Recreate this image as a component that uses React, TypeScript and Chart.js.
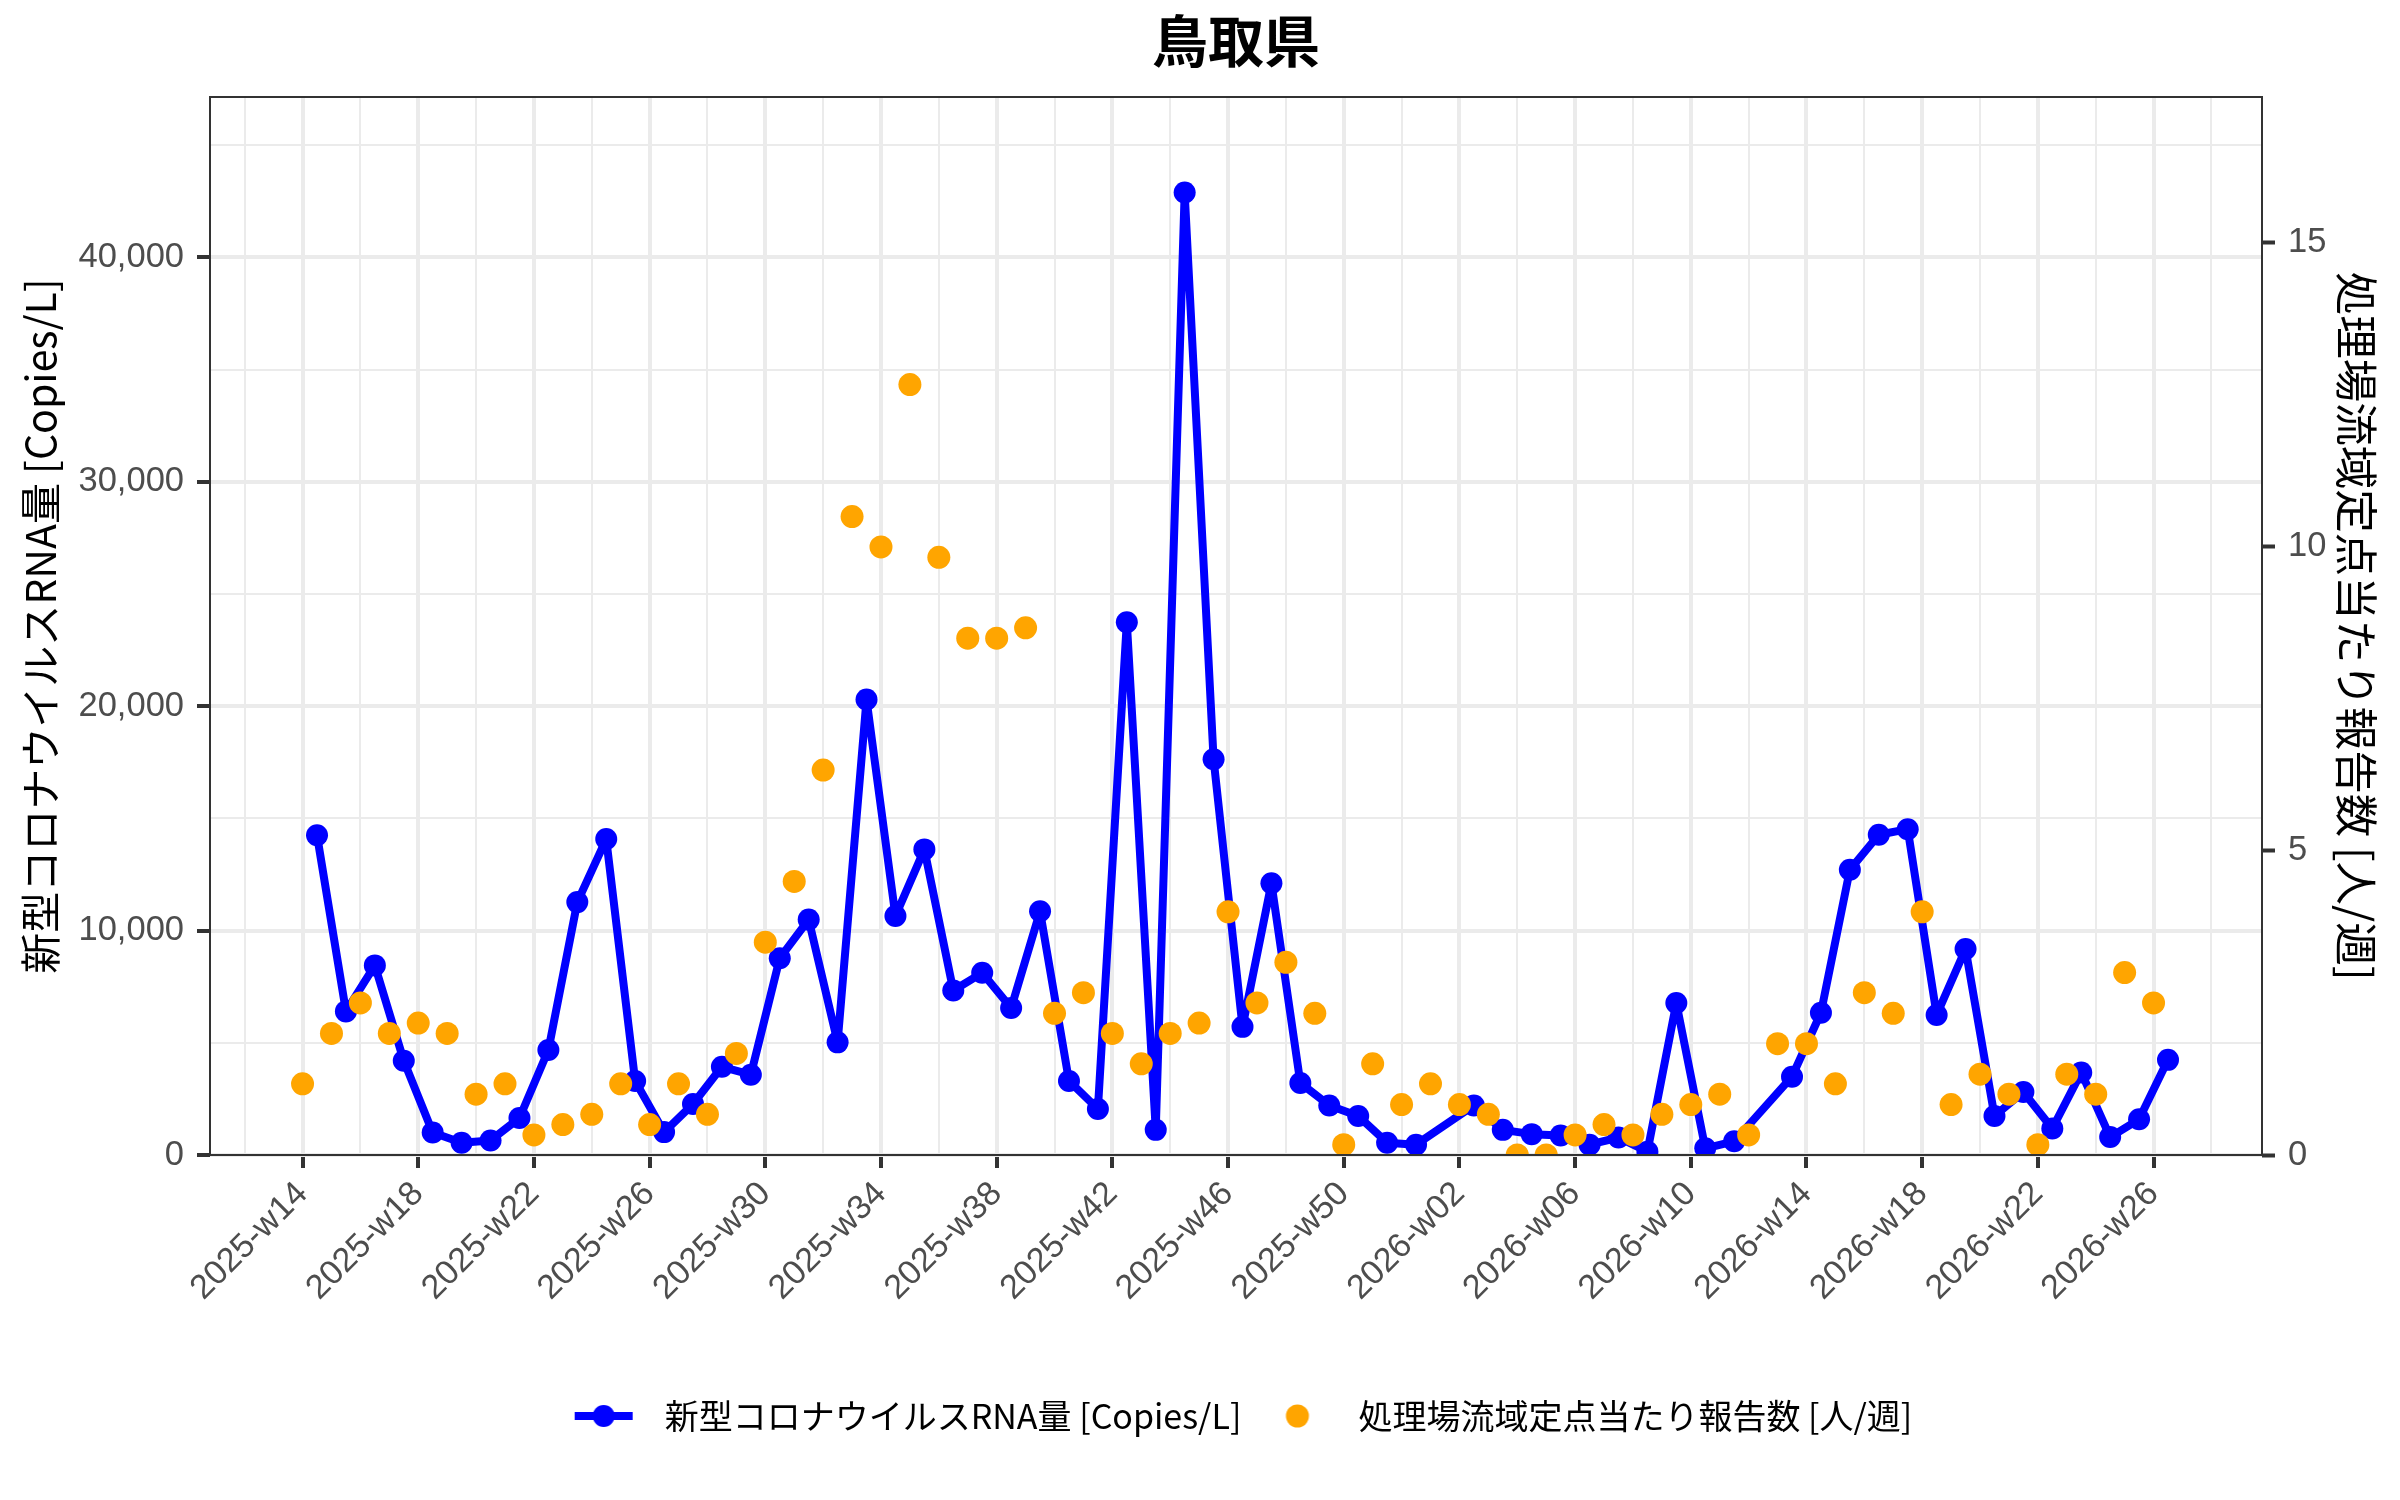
import React, { useEffect, useRef } from 'react';
import { Chart, registerables } from 'chart.js';

Chart.register(...registerables);

// ---------------- data ----------------
const TITLE = '鳥取県';
const RNA_LABEL = '新型コロナウイルスRNA量 [Copies/L]';
const REPORT_LABEL = '処理場流域定点当たり報告数 [人/週]';

// sampling weeks of the wastewater RNA measurements
const rnaWeeks = [
  '2025-w14', '2025-w15', '2025-w16', '2025-w17', '2025-w18', '2025-w19', '2025-w20', '2025-w21',
  '2025-w22', '2025-w23', '2025-w24', '2025-w25', '2025-w26', '2025-w27', '2025-w28', '2025-w29',
  '2025-w30', '2025-w31', '2025-w32', '2025-w33', '2025-w34', '2025-w35', '2025-w36', '2025-w37',
  '2025-w38', '2025-w39', '2025-w40', '2025-w41', '2025-w42', '2025-w43', '2025-w44', '2025-w45',
  '2025-w46', '2025-w47', '2025-w48', '2025-w49', '2025-w50', '2025-w51', '2025-w52',
  '2026-w02', '2026-w03', '2026-w04', '2026-w05', '2026-w06', '2026-w07', '2026-w08', '2026-w09',
  '2026-w10', '2026-w11', '2026-w13', '2026-w14', '2026-w15', '2026-w16', '2026-w17', '2026-w18',
  '2026-w19', '2026-w20', '2026-w21', '2026-w22', '2026-w23', '2026-w24', '2026-w25', '2026-w26',
];
const rnaValues = [
  14250, 6400, 8450, 4200, 1000, 550, 650, 1650,
  4680, 11270, 14080, 3300, 1020, 2270, 3930, 3580,
  8770, 10490, 5020, 20300, 10650, 13620, 7330, 8120,
  6550, 10860, 3300, 2050, 23740, 1120, 42890, 17640,
  5710, 12110, 3210, 2210, 1740, 550, 460,
  2210, 1120, 930, 870, 460, 780, 150, 6770,
  300, 610, 3490, 6340, 12710, 14270, 14520, 6240,
  9180, 1740, 2810, 1180, 3680, 800, 1590, 4240,
];

// weekly sentinel reports per site
const reportWeeks = [
  '2025-w14', '2025-w15', '2025-w16', '2025-w17', '2025-w18', '2025-w19', '2025-w20', '2025-w21',
  '2025-w22', '2025-w23', '2025-w24', '2025-w25', '2025-w26', '2025-w27', '2025-w28', '2025-w29',
  '2025-w30', '2025-w31', '2025-w32', '2025-w33', '2025-w34', '2025-w35', '2025-w36', '2025-w37',
  '2025-w38', '2025-w39', '2025-w40', '2025-w41', '2025-w42', '2025-w43', '2025-w44', '2025-w45',
  '2025-w46', '2025-w47', '2025-w48', '2025-w49', '2025-w50', '2025-w51', '2025-w52', '2026-w01',
  '2026-w02', '2026-w03', '2026-w04', '2026-w05', '2026-w06', '2026-w07', '2026-w08', '2026-w09',
  '2026-w10', '2026-w11', '2026-w12', '2026-w13', '2026-w14', '2026-w15', '2026-w16', '2026-w17',
  '2026-w18', '2026-w19', '2026-w20', '2026-w21', '2026-w22', '2026-w23', '2026-w24', '2026-w25',
  '2026-w26',
];
const reportValues = [
  1.17, 2, 2.5, 2, 2.17, 2, 1, 1.17,
  0.33, 0.5, 0.67, 1.17, 0.5, 1.17, 0.67, 1.67,
  3.5, 4.5, 6.33, 10.5, 10, 12.67, 9.83, 8.5,
  8.5, 8.67, 2.33, 2.67, 2, 1.5, 2, 2.17,
  4, 2.5, 3.17, 2.33, 0.17, 1.5, 0.83, 1.17,
  0.83, 0.67, 0, 0, 0.33, 0.5, 0.33, 0.67,
  0.83, 1, 0.33, 1.83, 1.83, 1.17, 2.67, 2.33,
  4, 0.83, 1.33, 1, 0.17, 1.33, 1, 3,
  2.5,
];

const xTickLabels = [
  '2025-w14', '2025-w18', '2025-w22', '2025-w26', '2025-w30', '2025-w34', '2025-w38', '2025-w42',
  '2025-w46', '2025-w50', '2026-w02', '2026-w06', '2026-w10', '2026-w14', '2026-w18', '2026-w22',
  '2026-w26',
];
const leftTicks = [0, 10000, 20000, 30000, 40000];
const rightTicks = [0, 5, 10, 15];

// ---------------- helpers ----------------
const TICK_FONT = "'Liberation Sans', 'Noto Sans CJK JP', sans-serif";
const JP_FONT = "'Noto Sans CJK JP', 'Liberation Sans', sans-serif";
const SAMPLE_OFFSET = 0.5; // RNA samples are taken mid-week

const weekIndex = (label: string) => {
  const m = /^(\d{4})-w(\d{2})$/.exec(label)!;
  return (Number(m[1]) - 2025) * 52 + Number(m[2]) - 14;
};

const majorX = xTickLabels.map(weekIndex);
const labelByX = new Map<number, string>(xTickLabels.map((l) => [weekIndex(l), l]));
const xGridValues: number[] = [];
for (let v = majorX[0] - 2; v <= majorX[majorX.length - 1] + 2; v += 2) xGridValues.push(v);

const leftGridValues: number[] = [];
for (let v = 0; v <= leftTicks[leftTicks.length - 1] + 5000; v += 5000) leftGridValues.push(v);

const rnaPoints = rnaWeeks.map((w, i) => ({ x: weekIndex(w) + SAMPLE_OFFSET, y: rnaValues[i] }));
const reportPoints = reportWeeks.map((w, i) => ({ x: weekIndex(w), y: reportValues[i] }));

const GRID = '#EBEBEB';
const DARK = '#333333';
const TICK_TEXT = '#4D4D4D';

function makeLineSymbol() {
  const c = document.createElement('canvas');
  c.width = 60;
  c.height = 26;
  const g = c.getContext('2d')!;
  g.strokeStyle = '#0000FF';
  g.lineWidth = 8;
  g.beginPath();
  g.moveTo(1, 13);
  g.lineTo(59, 13);
  g.stroke();
  g.fillStyle = '#0000FF';
  g.beginPath();
  g.arc(30, 13, 11, 0, Math.PI * 2);
  g.fill();
  return c;
}
function makeDotSymbol() {
  const c = document.createElement('canvas');
  c.width = 26;
  c.height = 26;
  const g = c.getContext('2d')!;
  g.fillStyle = '#FFA500';
  g.beginPath();
  g.arc(13, 13, 11.5, 0, Math.PI * 2);
  g.fill();
  return c;
}

const framePlugin = {
  id: 'panelFrame',
  afterDatasetsDraw(chart: any) {
    const { ctx, chartArea: a } = chart;
    ctx.save();
    ctx.strokeStyle = DARK;
    ctx.lineWidth = 2;
    ctx.strokeRect(a.left, a.top, a.right - a.left, a.bottom - a.top);
    ctx.restore();
  },
};

export default function App() {
  const ref = useRef<HTMLCanvasElement | null>(null);

  useEffect(() => {
    document.body.style.margin = '0';
    const canvas = ref.current;
    if (!canvas) return;
    const lineSymbol = makeLineSymbol();
    const dotSymbol = makeDotSymbol();

    const chart = new Chart(canvas, {
      type: 'scatter',
      data: {
        datasets: [
          {
            label: RNA_LABEL,
            data: rnaPoints,
            showLine: true,
            borderColor: '#0000FF',
            borderWidth: 8,
            borderJoinStyle: 'round',
            borderCapStyle: 'round',
            backgroundColor: '#0000FF',
            pointRadius: 11,
            pointBorderWidth: 0,
            pointBackgroundColor: '#0000FF',
            tension: 0,
            yAxisID: 'y',
            order: 1,
            clip: 0,
          } as any,
          {
            label: REPORT_LABEL,
            data: reportPoints,
            showLine: false,
            backgroundColor: '#FFA500',
            borderWidth: 0,
            pointRadius: 11.5,
            pointBorderWidth: 0,
            yAxisID: 'y1',
            order: 0,
            clip: 0,
          } as any,
        ],
      },
      options: {
        responsive: false,
        devicePixelRatio: 1,
        animation: false,
        events: [],
        layout: { padding: { left: 0, right: 0, top: 0, bottom: 57 } },
        plugins: {
          tooltip: { enabled: false },
          title: {
            display: true,
            text: TITLE,
            fullSize: false,
            color: '#000000',
            font: { family: JP_FONT, size: 56, weight: 'bold' },
            padding: { top: 7.4, bottom: 22.4 },
          },
          legend: {
            display: true,
            position: 'bottom',
            fullSize: false,
            onClick: () => {},
            labels: {
              usePointStyle: true,
              pointStyleWidth: 88,
              color: '#000000',
              padding: 12,
              font: { family: JP_FONT, size: 34 },
              generateLabels: () => [
                {
                  text: RNA_LABEL,
                  pointStyle: lineSymbol as any,
                  fillStyle: '#0000FF',
                  strokeStyle: 'rgba(0,0,0,0)',
                  lineWidth: 0,
                  hidden: false,
                  datasetIndex: 0,
                },
                {
                  text: REPORT_LABEL,
                  pointStyle: dotSymbol as any,
                  fillStyle: '#FFA500',
                  strokeStyle: 'rgba(0,0,0,0)',
                  lineWidth: 0,
                  hidden: false,
                  datasetIndex: 1,
                },
              ],
            },
          },
        },
        scales: {
          x: {
            type: 'linear',
            min: -3.2,
            max: 67.75,
            afterBuildTicks: (scale: any) => {
              scale.ticks = xGridValues.map((v) => ({ value: v }));
            },
            afterFit: (scale: any) => {
              scale.height = 232;
            },
            ticks: {
              autoSkip: false,
              maxRotation: 45,
              minRotation: 45,
              padding: 6,
              color: TICK_TEXT,
              font: { family: TICK_FONT, size: 34 },
              callback: (v: any) => labelByX.get(Math.round(Number(v))) ?? '',
            },
            grid: {
              color: GRID,
              lineWidth: (c: any) => (labelByX.has(Math.round(c.tick?.value)) ? 4 : 2),
              tickColor: (c: any) => (labelByX.has(Math.round(c.tick?.value)) ? DARK : 'rgba(0,0,0,0)'),
              tickWidth: 4,
              tickLength: 13,
            },
            border: { display: false },
          },
          y: {
            type: 'linear',
            position: 'left',
            min: 0,
            max: 47150,
            afterBuildTicks: (scale: any) => {
              scale.ticks = leftGridValues.map((v) => ({ value: v }));
            },
            afterFit: (scale: any) => {
              scale.width = 210;
            },
            ticks: {
              padding: 13,
              color: TICK_TEXT,
              font: { family: TICK_FONT, size: 34.5 },
              callback: (v: any) =>
                leftTicks.includes(Number(v)) ? Number(v).toLocaleString('en-US') : '',
            },
            grid: {
              color: GRID,
              lineWidth: (c: any) => (leftTicks.includes(c.tick?.value) ? 4 : 2),
              tickColor: (c: any) => (leftTicks.includes(c.tick?.value) ? DARK : 'rgba(0,0,0,0)'),
              tickWidth: 4,
              tickLength: 13,
            },
            border: { display: false },
            title: {
              display: true,
              text: RNA_LABEL,
              color: '#000000',
              font: { family: JP_FONT, size: 41 },
              padding: { top: 15.4, bottom: 0 },
            },
          },
          y1: {
            type: 'linear',
            position: 'right',
            min: 0,
            max: 17.4,
            afterBuildTicks: (scale: any) => {
              scale.ticks = rightTicks.map((v) => ({ value: v }));
            },
            afterFit: (scale: any) => {
              scale.width = 138;
            },
            ticks: {
              padding: 13,
              color: TICK_TEXT,
              font: { family: TICK_FONT, size: 34.5 },
              callback: (v: any) => String(v),
            },
            grid: {
              drawOnChartArea: false,
              color: DARK,
              tickColor: DARK,
              tickWidth: 4,
              tickLength: 13,
            },
            border: { display: false },
            title: {
              display: true,
              text: REPORT_LABEL,
              color: '#000000',
              font: { family: JP_FONT, size: 43.5 },
              padding: { top: 16.9, bottom: 0 },
            },
          },
        },
      } as any,
      plugins: [framePlugin],
    });

    return () => {
      chart.destroy();
    };
  }, []);

  return (
    <div style={{ width: 2400, height: 1500, background: '#FFFFFF' }}>
      <canvas ref={ref} width={2400} height={1500} style={{ display: 'block', width: 2400, height: 1500 }} />
    </div>
  );
}
